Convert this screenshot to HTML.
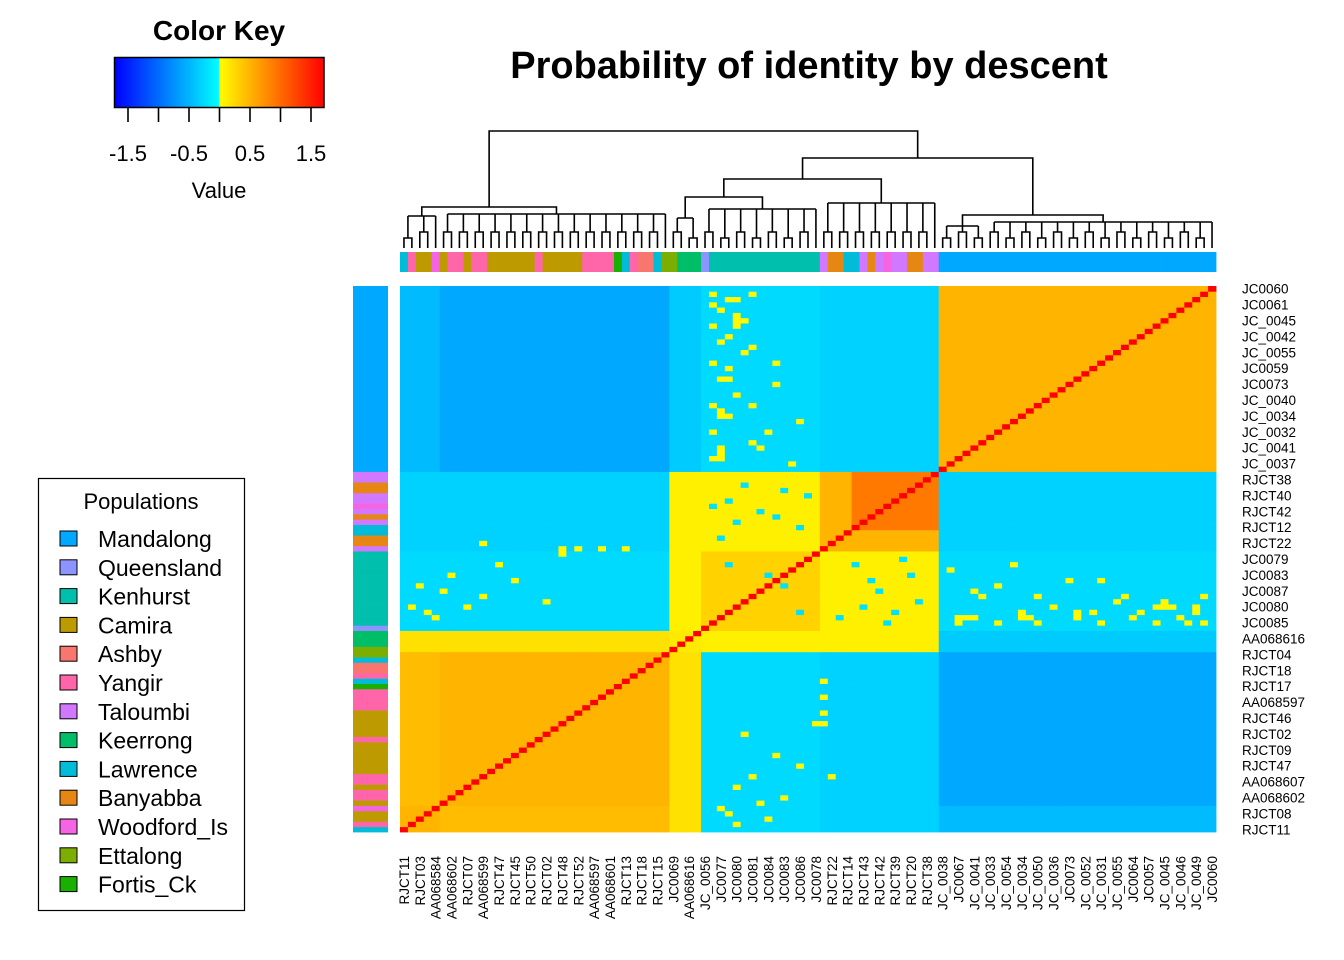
<!DOCTYPE html>
<html><head><meta charset="utf-8">
<style>
html,body{margin:0;padding:0;background:#fff;}
svg{display:block;font-family:"Liberation Sans",Arial,sans-serif;}
</style></head>
<body>
<svg id="chart" width="1344" height="960" viewBox="0 0 1344 960" xmlns="http://www.w3.org/2000/svg">
  <rect width="1344" height="960" fill="#fff"/>
  <text x="809" y="78" font-size="38" font-weight="bold" text-anchor="middle">Probability of identity by descent</text>
  <g id="key">
    <text x="219" y="40" font-size="28" font-weight="bold" text-anchor="middle">Color Key</text>
    <defs>
      <linearGradient id="kg" x1="0" x2="1" y1="0" y2="0">
        <stop offset="0" stop-color="#0000ff"/>
        <stop offset="0.4999" stop-color="#00ffff"/>
        <stop offset="0.5" stop-color="#ffff00"/>
        <stop offset="1" stop-color="#ff0000"/>
      </linearGradient>
    </defs>
    <rect x="114.5" y="57.5" width="209.5" height="50" fill="url(#kg)" stroke="#000" stroke-width="1.5"/>
    <g id="keyticks"></g>
    <text x="219" y="198" font-size="22" text-anchor="middle">Value</text>
  </g>
  <g id="legend">
    <rect x="38.5" y="478.5" width="206" height="432" fill="#fff" stroke="#000" stroke-width="1.2"/>
    <text x="141" y="509" font-size="22" text-anchor="middle">Populations</text>
  </g>
  <g id="dend" fill="none" stroke="#000" stroke-width="1.6"></g>
  <g id="colbar"></g>
  <g id="rowbar"></g>
  <g id="heat"></g>
  <g id="rlabels" font-size="13.5"></g>
  <g id="clabels" font-size="13.5"></g>
</svg>
<script>
// ---- data ----
const popNames = ["Mandalong","Queensland","Kenhurst","Camira","Ashby","Yangir","Taloumbi","Keerrong","Lawrence","Banyabba","Woodford_Is","Ettalong","Fortis_Ck"];
const popColors = ["#00a9ff","#8c94ff","#00bfad","#bd9b00","#f8766d","#ff66aa","#d277ff","#00be67","#00bcd8","#e68613","#f564e3","#7cae00","#1ab000"];
// run-length sample populations, in column order left->right
const popRuns = [["Lawrence",1],["Yangir",1],["Camira",2],["Woodford_Is",1],["Camira",1],["Yangir",2],["Camira",1],["Yangir",2],["Camira",6],["Yangir",1],["Camira",5],["Yangir",4],["Fortis_Ck",1],["Lawrence",1],["Yangir",1],["Ashby",2],["Lawrence",1],["Ettalong",2],["Keerrong",3],["Queensland",1],["Kenhurst",14],["Taloumbi",1],["Banyabba",2],["Lawrence",2],["Taloumbi",1],["Banyabba",1],["Taloumbi",1],["Woodford_Is",1],["Taloumbi",2],["Banyabba",2],["Taloumbi",2],["Mandalong",35]];
// cluster sizes (column order) and block values
const clusterSizes = [5,29,4,15,4,11,35];
const blockValues = [
 [0.5,0.45,0.2,-0.25,-0.3,-0.3,-0.45],
 [0.45,0.5,0.2,-0.25,-0.3,-0.3,-0.58],
 [0.2,0.2,0.15,0.1,0.1,0.1,-0.35],
 [-0.25,-0.25,0.1,0.3,0.1,0.1,-0.25],
 [-0.3,-0.3,0.1,0.1,0.5,0.5,-0.3],
 [-0.3,-0.3,0.1,0.1,0.5,0.9,-0.3],
 [-0.45,-0.58,-0.35,-0.25,-0.3,-0.3,0.5]];
const diagValue = 1.7;
const speckleYellow = [[70,39],[72,40],[75,39],[78,41],[80,39],[82,42],[85,40],[88,39],[90,43],[93,41],[95,39],[98,40],[100,42],[73,44],[84,47],[91,44],[99,39],[101,39],[96,43],[87,41],[92,40],
 [45,72],[46,75],[44,80],[43,90],[42,95],[41,100],[40,70],[40,71],[40,72],[40,78],[40,79],[41,85],[47,88],[50,77],[49,69],[42,96],[42,97],[44,101],
 [46,2],[45,5],[44,10],[42,1],[42,8],[41,3],[48,6],[50,12],[43,18],[40,4],[47,14],[52,20],[53,20],[53,22],[53,25],[53,28],[54,10]];
const speckleCyan = [[55,40],[58,42],[60,45],[62,41],[64,48],[57,50],[65,43],[61,39],[59,47],[63,51],[44,44],[46,48],[50,41]];
const speckleYellowValue = 0.05, speckleCyanValue = -0.2;
const keyTicks = [-1.5,-1,-0.5,0,0.5,1,1.5];
const keyLabels = [["-1.5",-1.5],["-0.5",-0.5],["0.5",0.5],["1.5",1.5]];
const rowLabels = ["JC0060","JC0061","JC_0045","JC_0042","JC_0055","JC0059","JC0073","JC_0040","JC_0034","JC_0032","JC_0041","JC_0037","RJCT38","RJCT40","RJCT42","RJCT12","RJCT22","JC0079","JC0083","JC0087","JC0080","JC0085","AA068616","RJCT04","RJCT18","RJCT17","AA068597","RJCT46","RJCT02","RJCT09","RJCT47","AA068607","AA068602","RJCT08","RJCT11"];
const colLabels = ["RJCT11","RJCT03","AA068584","AA068602","RJCT07","AA068599","RJCT47","RJCT45","RJCT50","RJCT02","RJCT48","RJCT52","AA068597","AA068601","RJCT13","RJCT18","RJCT15","JC0069","AA068616","JC_0056","JC0077","JC0080","JC0081","JC0084","JC0083","JC0086","JC0078","RJCT22","RJCT14","RJCT43","RJCT42","RJCT39","RJCT20","RJCT38","JC_0038","JC0067","JC_0041","JC_0033","JC_0054","JC_0034","JC_0050","JC_0036","JC0073","JC_0052","JC_0031","JC_0055","JC0064","JC0057","JC_0045","JC_0046","JC_0049","JC0060"];

// ---- layout ----
const NS="http://www.w3.org/2000/svg";
const N = clusterSizes.reduce((a,b)=>a+b,0);
const HX0=400,HX1=1216,HY0=286,HY1=832;
const cw=(HX1-HX0)/N, ch=(HY1-HY0)/N;
const xCol=j=>HX0+j*cw;
const yRow=i=>HY0+(N-1-i)*ch;
const keyX=v=>219.5+v*61;
function mk(tag,attrs,parent){const e=document.createElementNS(NS,tag);for(const k in attrs)e.setAttribute(k,attrs[k]);parent.appendChild(e);return e;}
function color(v){
  if(v<0){let t=Math.max(0,(v+1.7)/1.7);return `rgb(0,${Math.round(255*t)},255)`;}
  let t=Math.min(1,v/1.7);return `rgb(255,${Math.round(255*(1-t))},0)`;
}
// key ticks
const kt=document.getElementById('keyticks');
keyTicks.forEach(v=>{const l=mk('line',{x1:keyX(v),x2:keyX(v),y1:108,y2:122,stroke:'#000','stroke-width':1.6},kt);
  
  });
keyLabels.forEach(([s,v])=>{const t=mk('text',{x:keyX(v),y:161,'font-size':22,'text-anchor':'middle'},kt);t.textContent=s;
  
  });
// legend
const lg=document.getElementById('legend');
popNames.forEach((p,k)=>{const y=539+k*28.8;
  const r=mk('rect',{x:60,y:y-8,width:17,height:15,fill:popColors[k],stroke:'#000','stroke-width':1},lg);
  
  
  const t=mk('text',{x:98,y:y+8,'font-size':23},lg);t.textContent=p;
  
  });
// samples
const samplePop=[];popRuns.forEach(([p,n])=>{for(let i=0;i<n;i++)samplePop.push(p);});
const sampleCluster=[];clusterSizes.forEach((n,c)=>{for(let i=0;i<n;i++)sampleCluster.push(c);});
const cb=document.getElementById('colbar'),rb=document.getElementById('rowbar');
samplePop.forEach((p,j)=>{const col=popColors[popNames.indexOf(p)];
  const a=mk('rect',{x:xCol(j),y:252,width:cw+0.4,height:20,fill:col},cb);
  
  
  const b=mk('rect',{x:353,y:yRow(j),width:35,height:ch+0.4,fill:col},rb);
  
  });
// matrix
const over={};
speckleYellow.forEach(([a,b])=>{over[a+','+b]=speckleYellowValue;over[b+','+a]=speckleYellowValue;});
speckleCyan.forEach(([a,b])=>{over[a+','+b]=speckleCyanValue;over[b+','+a]=speckleCyanValue;});
const hg=document.getElementById('heat');
for(let i=0;i<N;i++)for(let j=0;j<N;j++){
  let v=i===j?diagValue:(over[i+','+j]!==undefined?over[i+','+j]:blockValues[sampleCluster[i]][sampleCluster[j]]);
  const r=mk('rect',{x:xCol(j).toFixed(2),y:yRow(i).toFixed(2),width:(cw+0.4).toFixed(2),height:(ch+0.4).toFixed(2),fill:color(v)},hg);
  
  
}
// labels
const rl=document.getElementById('rlabels');
rowLabels.forEach((s,k)=>{const t=mk('text',{x:1242,y:(HY0+(3*k+0.5)*ch+5).toFixed(1)},rl);t.textContent=s;
  
  });
const cl=document.getElementById('clabels');
colLabels.forEach((s,k)=>{const x=xCol(2*k)+cw/2+5;const t=mk('text',{x:0,y:0,'text-anchor':'end',transform:`translate(${x},856) rotate(-90)`},cl);t.textContent=s;
  
  });
// dendrogram
const dg=document.getElementById('dend');
const LEAF=248;
const cx=j=>xCol(j)+cw/2;
function drawRange(c0,c1,h){
  const centers=[];
  for(let j=c0;j<=c1;j+=2){
    if(j+1<=c1){const ph=(j/2)%2?232:238;
      mk('path',{d:`M${cx(j)},${LEAF}V${ph}H${cx(j+1)}V${LEAF}`},dg);
      const m=(cx(j)+cx(j+1))/2;mk('path',{d:`M${m},${ph}V${h}`},dg);centers.push(m);}
    else{mk('path',{d:`M${cx(j)},${LEAF}V${h}`},dg);centers.push(cx(j));}
  }
  mk('path',{d:`M${centers[0]},${h}H${centers[centers.length-1]}`},dg);
  return (centers[0]+centers[centers.length-1])/2;
}
function node(h,a,b){mk('path',{d:`M${a.x},${a.h}V${h}H${b.x}V${b.h}`},dg);return {x:(a.x+b.x)/2,h:h};}
function rng(c0,c1,h){return {x:drawRange(c0,c1,h),h:h};}
node(131,
  node(207,rng(0,4,216),rng(5,33,214)),
  node(158,
    node(179,node(197,rng(34,37,218),rng(38,52,209)),rng(53,67,203)),
    node(215,rng(68,73,226),rng(74,102,222))));
</script>
</body></html>
